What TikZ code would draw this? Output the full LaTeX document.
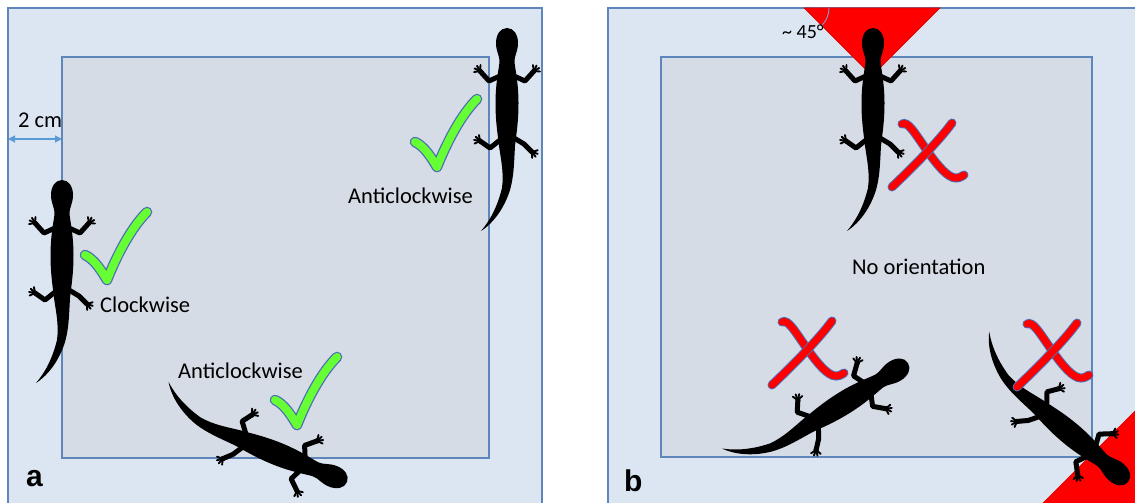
\documentclass[tikz,border=0pt]{standalone}
\usepackage{fontspec}
\setmainfont{Carlito}
\setsansfont{Liberation Sans}
\usetikzlibrary{arrows, arrows.meta}

\definecolor{arenaout}{HTML}{DCE6F2}
\definecolor{arenain}{HTML}{D6DCE5}
\definecolor{arenaline}{HTML}{5F86BA}
\definecolor{tickgreen}{HTML}{66FF33}
\definecolor{markline}{HTML}{4F6FB5}
\definecolor{cmarrow}{HTML}{5B9BD5}
\definecolor{anglearc}{HTML}{7F9FD0}

\newcommand{\salamtoes}[2]{%
  \fill (#1) circle (2.6);
  \foreach \toe in {-55,-20,15,50}
    \draw[line width=1.9pt, line cap=round] (#1) -- ++({#2+\toe}:6);}

\tikzset{
  arena/.style={draw=arenaline, line width=1.4pt},
  lbl/.style={font=\fontsize{22.5}{27}\selectfont, inner sep=0pt},
  panel/.style={font=\sffamily\bfseries\fontsize{30}{36}\selectfont, inner sep=0pt},
  leg/.style={line width=5pt, line cap=round, line join=round},
  salamander/.pic={
    % body, head up, snout at the origin
    \fill[black] (0,0) .. controls (7,0) and (11,7) .. (11,15)
      .. controls (11,24) and (7,28) .. (7.5,34)
      .. controls (8,40) and (11.5,55) .. (11.5,75)
      .. controls (11.5,95) and (9,108) .. (8,118)
      .. controls (7,135) and (7,148) .. (3,162)
      .. controls (-2,178) and (-12,194) .. (-26,203)
      .. controls (-15,190) and (-9,176) .. (-5,160)
      .. controls (-3,145) and (-6,132) .. (-8,118)
      .. controls (-9,108) and (-11.5,95) .. (-11.5,75)
      .. controls (-11.5,55) and (-8,40) .. (-7.5,34)
      .. controls (-7,28) and (-11,24) .. (-11,15)
      .. controls (-11,7) and (-7,0) .. (0,0) -- cycle;
    % legs
    \draw[leg] (-7,48) -- (-18,53) -- (-27,43);
    \draw[leg] (7,48) -- (18,53) -- (27,43);
    \draw[leg] (-7,112) -- (-17,120) -- (-27,113);
    \draw[leg] (7,110) -- (17,116) -- (25,124);
    \salamtoes{-27,43}{-135}
    \salamtoes{27,43}{-45}
    \salamtoes{-27,113}{-150}
    \salamtoes{25,124}{38}
  },
  okmark/.pic={
    \draw[draw=markline, line width=1.3pt, double=tickgreen, double distance=8pt,
      line cap=round, line join=round]
      (-22,-25) .. controls (-13,-21) and (-6,-10) .. (0,0)
      .. controls (10,-25) and (24,-52) .. (40,-68);
  },
  nomark/.pic={
    \draw[draw=markline, line width=1pt, double=red, double distance=7pt, line cap=round]
      (-26,-28) .. controls (-20,-31) and (-14,-20) .. (0,0)
      .. controls (10,14) and (20,26) .. (28,26)
      .. controls (32,26) and (34,24) .. (36,23);
    \draw[draw=markline, line width=1pt, double=red, double distance=7pt, line cap=round]
      (24,-29) .. controls (10,-10) and (-15,15) .. (-36,35);
  },
}

\begin{document}
\begin{tikzpicture}[x=1pt,y=-1pt]
\useasboundingbox (0,0) rectangle (1135,503);
\clip (0,0) rectangle (1135,503);

% arenas
\filldraw[arena, fill=arenaout] (8,8) rectangle (542,520);
\filldraw[arena, fill=arenain] (62,57) rectangle (489,458);
\filldraw[arena, fill=arenaout] (608,8) rectangle (1150,520);
\filldraw[arena, fill=arenain] (661,57) rectangle (1092,457);

% red sectors
\filldraw[fill=red, draw=red!85!black, line width=0.6pt] (804,8) -- (940,8) -- (872,76) -- cycle;
\filldraw[fill=red, draw=red!85!black, line width=0.6pt] (1035,511) -- (1143,403) -- (1143,511) -- cycle;
\draw[anglearc, line width=0.9pt] (829,8) arc[start angle=0, end angle=45, radius=25];

% 2 cm
\coordinate (cmL) at (8,139);
\coordinate (cmR) at (62,139);
\draw[cmarrow, line width=1.2pt, {Triangle[length=7pt,width=7pt]}-{Triangle[length=7pt,width=7pt]}] (cmL) -- (cmR);
\node[lbl, anchor=base west] (lblcm) at (18,127) {2 cm};

% salamanders
\pic at (62,180) {salamander};
\pic at (507,28) {salamander};
\pic[rotate=-112] at (347,482) {salamander};
\pic at (873,28) {salamander};
\pic[rotate=-58] at (908,363) {salamander};
\pic[rotate=-130] at (1128,482) {salamander};

% marks
\pic at (107,280) {okmark};
\pic at (437,167) {okmark};
\pic at (297,425) {okmark};
\pic at (928,152) {nomark};
\pic at (808,350) {nomark};
\pic at (1053,352) {nomark};

% labels
\node[lbl, anchor=base west] (lblcw) at (100,312) {Clockwise};
\node[lbl, anchor=base west] (lblacwtop) at (348,203) {Anticlockwise};
\node[lbl, anchor=base west] (lblacwbot) at (178,378) {Anticlockwise};
\node[lbl, anchor=base west] (lblnone) at (852,274) {No orientation};
\node[lbl, anchor=base west, font=\fontsize{20}{24}\selectfont] (lbldeg) at (782,39) {\textasciitilde\ 45°};
\node[panel, anchor=base west] (lbla) at (26,486) {a};
\node[panel, anchor=base west] (lblb) at (624,491) {b};
\end{tikzpicture}
\end{document}
